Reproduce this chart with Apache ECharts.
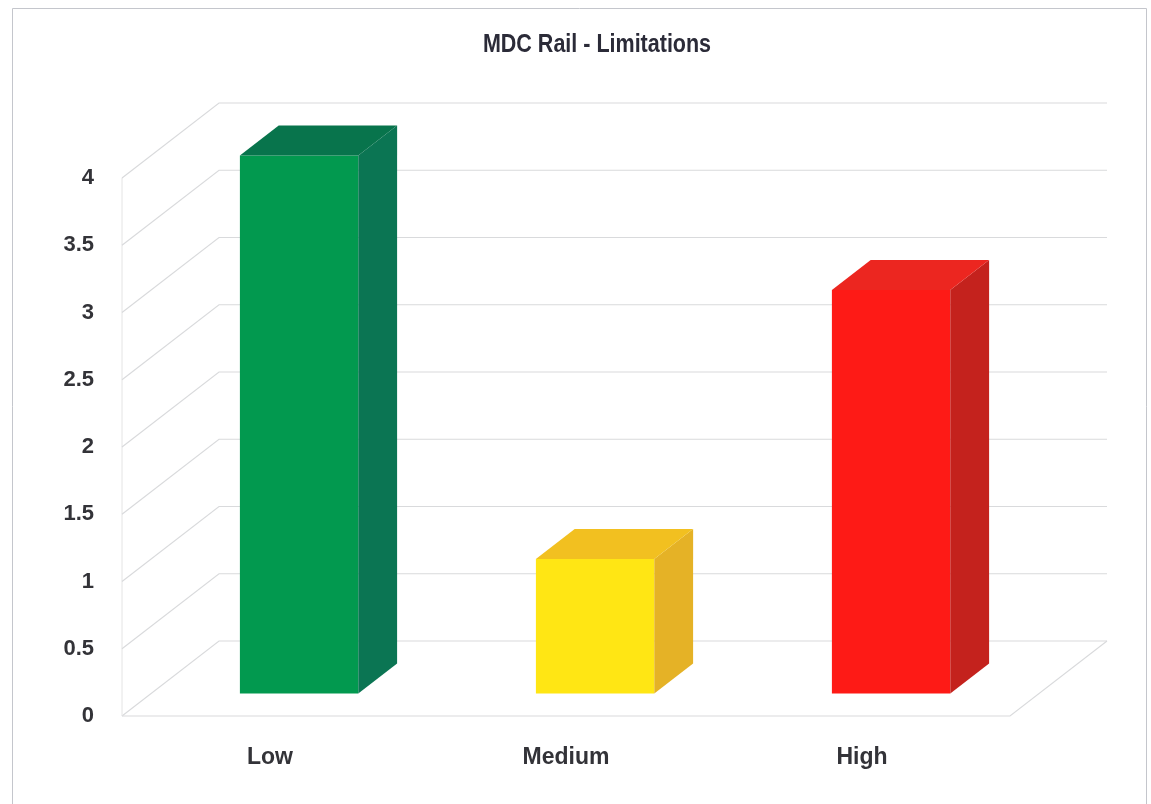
<!DOCTYPE html>
<html>
<head>
<meta charset="utf-8">
<title>MDC Rail - Limitations</title>
<script src="https://cdn.jsdelivr.net/npm/echarts@6/dist/echarts.min.js"></script>
<style>
  html, body { margin: 0; padding: 0; background: #ffffff; }
  #chart { width: 1151px; height: 804px; }
</style>
</head>
<body>
<div id="chart"></div>
<script>
// Chart data
const chartTitle = 'MDC Rail - Limitations';
const categories = ['Low', 'Medium', 'High'];
const counts = [4, 1, 3];
const valueTicks = [0, 0.5, 1, 1.5, 2, 2.5, 3, 3.5, 4];

// Face colours per category: [front, side, top]
const faceColors = [
  ['#02994f', '#0b7553', '#08744c'],
  ['#ffe614', '#e5b226', '#f2c020'],
  ['#fe1a16', '#c4221d', '#ec2620']
];

// Pseudo-3D depth of the plot box (pixel offset from front plane to back wall)
const DEPTH = [97, -75];
// Bars sit in the middle slice of the depth
const BAR_FRONT = 0.3, BAR_BACK = 0.7, BAR_WIDTH = 0.4;
const GRID_COLOR = '#d9dadc';

const chart = echarts.init(document.getElementById('chart'), null, { renderer: 'canvas' });

function frameItem(params, api) {
  const cs = params.coordSys;
  const v = api.value(1);
  const y = api.coord([0, v])[1];
  const x0 = cs.x, x1 = cs.x + cs.width;
  const lineStyle = { stroke: GRID_COLOR, lineWidth: 1.1, fill: null };
  const children = [{
    type: 'polyline',
    shape: { points: [[x0, y], [x0 + DEPTH[0], y + DEPTH[1]], [x1 + DEPTH[0], y + DEPTH[1]]] },
    style: lineStyle
  }];
  if (params.dataIndex === 0) {
    // floor: front edge and right edge
    children.push({
      type: 'polyline',
      shape: { points: [[x0, y], [x1, y], [x1 + DEPTH[0], y + DEPTH[1]]] },
      style: lineStyle
    });
    // left wall front edge
    const yTop = api.coord([0, valueTicks[valueTicks.length - 1]])[1];
    children.push({
      type: 'line',
      shape: { x1: x0, y1: y, x2: x0, y2: yTop },
      style: { stroke: '#e4e4e4', lineWidth: 1 }
    });
  }
  return { type: 'group', children: children };
}

function barItem(params, api) {
  const idx = api.value(0);
  const val = api.value(1);
  const base = api.coord([idx, 0]);
  const top = api.coord([idx, val]);
  const band = api.size([1, 0])[0];
  const w = band * BAR_WIDTH;
  const fx = DEPTH[0] * BAR_FRONT, fy = DEPTH[1] * BAR_FRONT;
  const bx = DEPTH[0] * BAR_BACK, by = DEPTH[1] * BAR_BACK;
  const left = base[0] - w / 2 + fx;
  const right = base[0] + w / 2 + fx;
  const yb = base[1] + fy;
  const yt = top[1] + fy;
  const dx = bx - fx, dy = by - fy;
  const c = faceColors[params.dataIndex];
  return {
    type: 'group',
    children: [
      {
        type: 'rect',
        shape: { x: left, y: yt, width: w, height: yb - yt },
        style: { fill: c[0] }
      },
      {
        type: 'polygon',
        shape: { points: [[right, yt], [right + dx, yt + dy], [right + dx, yb + dy], [right, yb]] },
        style: { fill: c[1] }
      },
      {
        type: 'polygon',
        shape: { points: [[left, yt], [left + dx, yt + dy], [right + dx, yt + dy], [right, yt]] },
        style: { fill: c[2] }
      }
    ]
  };
}

const option = {
  backgroundColor: '#ffffff',
  animation: false,
  graphic: [
    {
      type: 'rect',
      shape: { x: 12.5, y: 8.5, width: 1134, height: 800 },
      style: { fill: null, stroke: '#c4c6cc', lineWidth: 1 },
      silent: true
    },
    {
      // condensed bold title
      type: 'text',
      x: 597,
      y: 45,
      scaleX: 0.86,
      silent: true,
      style: {
        text: chartTitle,
        font: 'bold 25px "Liberation Sans", Arial, sans-serif',
        fill: '#2b2b38',
        textAlign: 'center',
        textVerticalAlign: 'middle'
      }
    }
  ],
  grid: { left: 122, right: 141, top: 178, bottom: 88, containLabel: false },
  xAxis: {
    type: 'category',
    data: categories,
    axisLine: { show: false },
    axisTick: { show: false },
    splitLine: { show: false },
    axisLabel: {
      margin: 30,
      fontFamily: '"Liberation Sans", Arial, sans-serif',
      fontWeight: 'bold',
      fontSize: 23,
      color: '#333338'
    }
  },
  yAxis: {
    type: 'value',
    min: valueTicks[0],
    max: valueTicks[valueTicks.length - 1],
    interval: valueTicks[1] - valueTicks[0],
    axisLine: { show: false },
    axisTick: { show: false },
    splitLine: { show: false },
    axisLabel: {
      margin: 28,
      fontFamily: '"Liberation Sans", Arial, sans-serif',
      fontWeight: 'bold',
      fontSize: 22,
      color: '#333338'
    }
  },
  series: [
    {
      name: 'frame',
      type: 'custom',
      silent: true,
      clip: false,
      z: 1,
      renderItem: frameItem,
      data: valueTicks.map(v => [0, v])
    },
    {
      name: 'Limitations',
      type: 'custom',
      clip: false,
      z: 2,
      renderItem: barItem,
      encode: { x: 0, y: 1 },
      data: counts.map((v, i) => [i, v])
    }
  ]
};

chart.setOption(option);
</script>
</body>
</html>
